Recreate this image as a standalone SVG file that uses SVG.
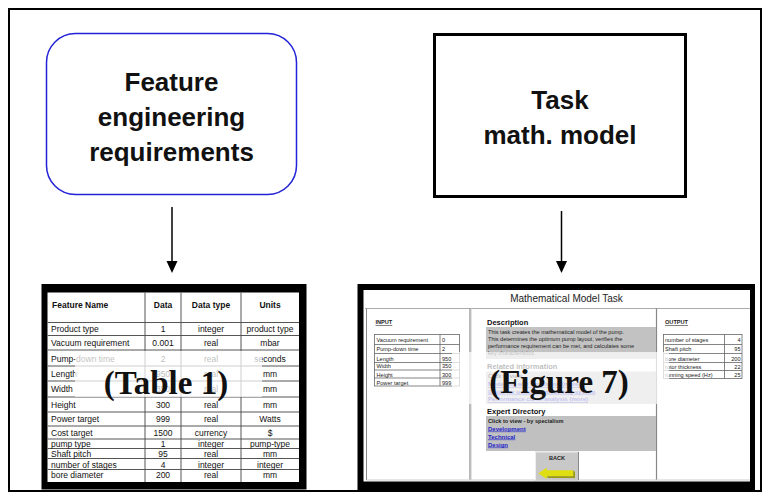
<svg xmlns="http://www.w3.org/2000/svg" width="768" height="496" viewBox="0 0 768 496">
  <style>
    .box-label { font-family: "Liberation Sans", Arial, sans-serif; font-weight: bold; font-size: 26px; fill: #111; text-anchor: middle; }
    .cap { font-family: "Liberation Serif", "Times New Roman", serif; font-weight: bold; font-size: 33px; fill: #111; text-anchor: middle; }
    .t { font-family: "Liberation Sans", Arial, sans-serif; font-size: 8.5px; fill: #111; }
    .th { font-family: "Liberation Sans", Arial, sans-serif; font-size: 8.5px; font-weight: bold; fill: #111; }
    .mid { text-anchor: middle; }
    .s { font-family: "Liberation Sans", Arial, sans-serif; font-size: 5.6px; fill: #222; }
    .sb { font-family: "Liberation Sans", Arial, sans-serif; font-size: 5.6px; font-weight: bold; fill: #222; }
    .hd { font-family: "Liberation Sans", Arial, sans-serif; font-size: 7.5px; font-weight: bold; fill: #111; }
    .lnk { font-family: "Liberation Sans", Arial, sans-serif; font-size: 6px; font-weight: bold; fill: #2424c8; text-decoration: underline; }
    .grid { stroke: #555; stroke-width: 1; fill: none; }
    .fgrid { stroke: #666; stroke-width: 0.8; fill: none; }
    .veil { fill: #fff; fill-opacity: 0.72; }
    .conn { stroke: #000; stroke-width: 1.5; fill: none; }
  </style>
  <defs>
    <clipPath id="expert-clip"><rect x="486" y="416" width="170" height="35"/></clipPath>
  </defs>

  <!-- page frame -->
  <rect x="9" y="9" width="752" height="482" fill="#fff" stroke="#000" stroke-width="2"/>

  <!-- requirements node -->
  <g id="feature-req">
    <rect x="46.5" y="33.5" width="250" height="161" rx="29" fill="#fff" stroke="#2222d8" stroke-width="1.5"/>
    <text class="box-label" x="171.5" y="91">Feature</text>
    <text class="box-label" x="171.5" y="126">engineering</text>
    <text class="box-label" x="171.5" y="161">requirements</text>
  </g>

  <!-- task node -->
  <g id="task-model">
    <rect x="434.5" y="34.5" width="251" height="162" fill="#fff" stroke="#000" stroke-width="3"/>
    <text class="box-label" x="560" y="109">Task</text>
    <text class="box-label" x="560" y="144">math. model</text>
  </g>

  <!-- connectors -->
  <g id="connectors">
    <line class="conn" x1="172" y1="207" x2="172" y2="263"/>
    <polygon points="166.5,261 177.5,261 172,273" fill="#000"/>
    <line class="conn" x1="561.5" y1="211" x2="561.5" y2="263"/>
    <polygon points="556,261 567,261 561.5,273" fill="#000"/>
  </g>

  <!-- feature table (Table 1) -->
  <g id="table-1">
    <rect x="41.5" y="284" width="265" height="205.5" fill="#000"/>
    <rect x="47.5" y="292.5" width="251.5" height="189.5" fill="#fff"/>
    <g class="grid">
      <line x1="145" y1="292.5" x2="145" y2="482"/>
      <line x1="181" y1="292.5" x2="181" y2="482"/>
      <line x1="241" y1="292.5" x2="241" y2="482"/>
      <line x1="47.5" y1="322.5" x2="299" y2="322.5"/>
      <line x1="47.5" y1="335.5" x2="299" y2="335.5"/>
      <line x1="47.5" y1="350" x2="299" y2="350"/>
      <line x1="47.5" y1="366" x2="299" y2="366"/>
      <line x1="47.5" y1="381" x2="299" y2="381"/>
      <line x1="47.5" y1="397" x2="299" y2="397"/>
      <line x1="47.5" y1="412" x2="299" y2="412"/>
      <line x1="47.5" y1="426" x2="299" y2="426"/>
      <line x1="47.5" y1="439" x2="299" y2="439"/>
      <line x1="47.5" y1="448.5" x2="299" y2="448.5"/>
      <line x1="47.5" y1="458.5" x2="299" y2="458.5"/>
      <line x1="47.5" y1="469.5" x2="299" y2="469.5"/>
    </g>
    <text class="th" x="52" y="308">Feature Name</text>
    <text class="th mid" x="163" y="308">Data</text>
    <text class="th mid" x="211" y="308">Data type</text>
    <text class="th mid" x="270" y="308">Units</text>

    <text class="t" x="51" y="332">Product type</text>
    <text class="t mid" x="163" y="332">1</text>
    <text class="t mid" x="211" y="332">integer</text>
    <text class="t mid" x="270" y="332">product type</text>

    <text class="t" x="51" y="346">Vacuum requirement</text>
    <text class="t mid" x="163" y="346">0.001</text>
    <text class="t mid" x="211" y="346">real</text>
    <text class="t mid" x="270" y="346">mbar</text>

    <text class="t" x="51" y="362">Pump-down time</text>
    <text class="t mid" x="163" y="362">2</text>
    <text class="t mid" x="211" y="362">real</text>
    <text class="t mid" x="270" y="362">seconds</text>

    <text class="t" x="51" y="377">Length</text>
    <text class="t mid" x="163" y="377">950</text>
    <text class="t mid" x="211" y="377">real</text>
    <text class="t mid" x="270" y="377">mm</text>

    <text class="t" x="51" y="391.5">Width</text>
    <text class="t mid" x="163" y="391.5">350</text>
    <text class="t mid" x="211" y="391.5">real</text>
    <text class="t mid" x="270" y="391.5">mm</text>

    <text class="t" x="51" y="408">Height</text>
    <text class="t mid" x="163" y="408">300</text>
    <text class="t mid" x="211" y="408">real</text>
    <text class="t mid" x="270" y="408">mm</text>

    <text class="t" x="51" y="422">Power target</text>
    <text class="t mid" x="163" y="422">999</text>
    <text class="t mid" x="211" y="422">real</text>
    <text class="t mid" x="270" y="422">Watts</text>

    <text class="t" x="51" y="436">Cost target</text>
    <text class="t mid" x="163" y="436">1500</text>
    <text class="t mid" x="211" y="436">currency</text>
    <text class="t mid" x="270" y="436">$</text>

    <text class="t" x="51" y="447">pump type</text>
    <text class="t mid" x="163" y="447">1</text>
    <text class="t mid" x="211" y="447">integer</text>
    <text class="t mid" x="270" y="447">pump-type</text>

    <text class="t" x="51" y="456.5">Shaft pitch</text>
    <text class="t mid" x="163" y="456.5">95</text>
    <text class="t mid" x="211" y="456.5">real</text>
    <text class="t mid" x="270" y="456.5">mm</text>

    <text class="t" x="51" y="467.5">number of stages</text>
    <text class="t mid" x="163" y="467.5">4</text>
    <text class="t mid" x="211" y="467.5">integer</text>
    <text class="t mid" x="270" y="467.5">integer</text>

    <text class="t" x="51" y="478">bore diameter</text>
    <text class="t mid" x="163" y="478">200</text>
    <text class="t mid" x="211" y="478">real</text>
    <text class="t mid" x="270" y="478">mm</text>

    <rect class="veil" x="75" y="351" width="187" height="46"/>
    <text class="cap" x="166" y="394">(Table 1)</text>
  </g>

  <!-- task screen (Figure 7) -->
  <g id="figure-7">
    <rect x="357.5" y="284" width="397.5" height="206" fill="#000"/>
    <rect x="363.5" y="290" width="386.5" height="191.5" fill="#fff"/>
    <text x="566.5" y="302" font-family="Liberation Sans, Arial, sans-serif" font-size="10" fill="#222" text-anchor="middle">Mathematical Model Task</text>
    <line x1="365" y1="308.5" x2="750" y2="308.5" stroke="#aaa" stroke-width="1"/>
    <line x1="366.5" y1="308.5" x2="366.5" y2="480" stroke="#888" stroke-width="1"/>
    <line x1="470" y1="308.5" x2="470" y2="480" stroke="#888" stroke-width="1.2"/>
    <line x1="471.3" y1="308.5" x2="471.3" y2="480" stroke="#ddd" stroke-width="1"/>
    <line x1="656.5" y1="308.5" x2="656.5" y2="480" stroke="#888" stroke-width="1.2"/>
    <line x1="366.5" y1="480" x2="750" y2="480" stroke="#ccc" stroke-width="1"/>

    <!-- input panel -->
    <text class="sb" x="375.5" y="324" text-decoration="underline">INPUT</text>
    <g class="fgrid">
      <rect x="374.5" y="334.5" width="85" height="51.5"/>
      <line x1="440" y1="334.5" x2="440" y2="386"/>
      <line x1="374.5" y1="344.5" x2="459.5" y2="344.5"/>
      <line x1="374.5" y1="353.5" x2="459.5" y2="353.5"/>
      <line x1="374.5" y1="362.5" x2="459.5" y2="362.5"/>
      <line x1="374.5" y1="370" x2="459.5" y2="370"/>
      <line x1="374.5" y1="378" x2="459.5" y2="378"/>
    </g>
    <text class="s" x="376.5" y="342">Vacuum requirement</text>
    <text class="s" x="376.5" y="351">Pump-down time</text>
    <text class="s" x="376.5" y="360.5">Length</text>
    <text class="s" x="376.5" y="368">Width</text>
    <text class="s" x="376.5" y="376.5">Height</text>
    <text class="s" x="376.5" y="384.5">Power target</text>
    <text class="s" x="442" y="342">0</text>
    <text class="s" x="442" y="351">2</text>
    <text class="s" x="442" y="360.5">950</text>
    <text class="s" x="442" y="368">350</text>
    <text class="s" x="442" y="376.5">300</text>
    <text class="s" x="442" y="384.5">999</text>

    <!-- description panel -->
    <text class="hd" x="487" y="324.5">Description</text>
    <rect x="486" y="327" width="170" height="32" fill="#c2c2c2"/>
    <text class="s" x="488" y="334">This task creates the mathematical model of the pump.</text>
    <text class="s" x="488" y="341">This determines the optimum pump layout, verifies the</text>
    <text class="s" x="488" y="348">performance requirement can be met, and calculates some</text>
    <text class="s" x="488" y="355">key characteristics.</text>

    <text class="hd" x="487" y="369" fill="#444">Related information</text>
    <rect x="486" y="371.5" width="170" height="32.5" fill="#c6c6c6"/>
    <text class="sb" x="488" y="378">Click to view</text>
    <text class="lnk" x="488" y="386" font-weight="normal">Modelling and simulation (more)</text>
    <text class="lnk" x="488" y="393.5" font-weight="normal">Guide for using the modelling system</text>
    <text class="lnk" x="488" y="401" font-weight="normal">Performance curve analysis (more)</text>

    <text class="hd" x="487" y="413.5">Expert Directory</text>
    <rect x="486" y="416" width="170" height="35" fill="#c0c0c0"/>
    <text class="sb" x="488" y="422.5">Click to view - by specialism</text>
    <g clip-path="url(#expert-clip)">
      <text class="lnk" x="488" y="430.5">Development</text>
      <text class="lnk" x="488" y="438.5">Technical</text>
      <text class="lnk" x="488" y="446.5">Design</text>
      <text class="lnk" x="488" y="454.5">Modelling</text>
    </g>

    <!-- back button -->
    <rect x="535" y="451.5" width="44" height="29" fill="#c8c8c8"/>
    <polyline points="535.5,480 535.5,452 578.5,452" fill="none" stroke="#eee" stroke-width="1"/>
    <line x1="578.5" y1="452" x2="578.5" y2="480" stroke="#888" stroke-width="1"/>
    <text class="sb mid" x="557" y="459.5">BACK</text>
    <polygon points="538.3,473.3 546.7,467.7 546.7,470.3 573.3,470.3 573.3,476.3 546.7,476.3 546.7,479" fill="#dede10"/>
    <polygon points="546.7,476.3 573.3,476.3 573.3,470.3 575,472 575,478 548,478" fill="#9a9a10"/>

    <!-- output panel -->
    <text class="sb" x="665" y="324" text-decoration="underline">OUTPUT</text>
    <g class="fgrid">
      <rect x="663.5" y="334.5" width="78.5" height="44"/>
      <line x1="724.5" y1="334.5" x2="724.5" y2="378.5"/>
      <line x1="663.5" y1="344.5" x2="742" y2="344.5"/>
      <line x1="663.5" y1="353.5" x2="742" y2="353.5"/>
      <line x1="663.5" y1="362.5" x2="742" y2="362.5"/>
      <line x1="663.5" y1="370.5" x2="742" y2="370.5"/>
    </g>
    <text class="s" x="665" y="342">number of stages</text>
    <text class="s" x="665" y="351">Shaft pitch</text>
    <text class="s" x="665" y="360.5">bore diameter</text>
    <text class="s" x="665" y="368.5">rotor thickness</text>
    <text class="s" x="665" y="377">running speed (Hz)</text>
    <text class="s" x="740.5" y="342" text-anchor="end">4</text>
    <text class="s" x="740.5" y="351" text-anchor="end">95</text>
    <text class="s" x="740.5" y="360.5" text-anchor="end">200</text>
    <text class="s" x="740.5" y="368.5" text-anchor="end">22</text>
    <text class="s" x="740.5" y="377" text-anchor="end">25</text>

    <rect class="veil" x="452" y="352" width="217" height="52"/>
    <text class="cap" x="559" y="393">(Figure 7)</text>
  </g>
</svg>
